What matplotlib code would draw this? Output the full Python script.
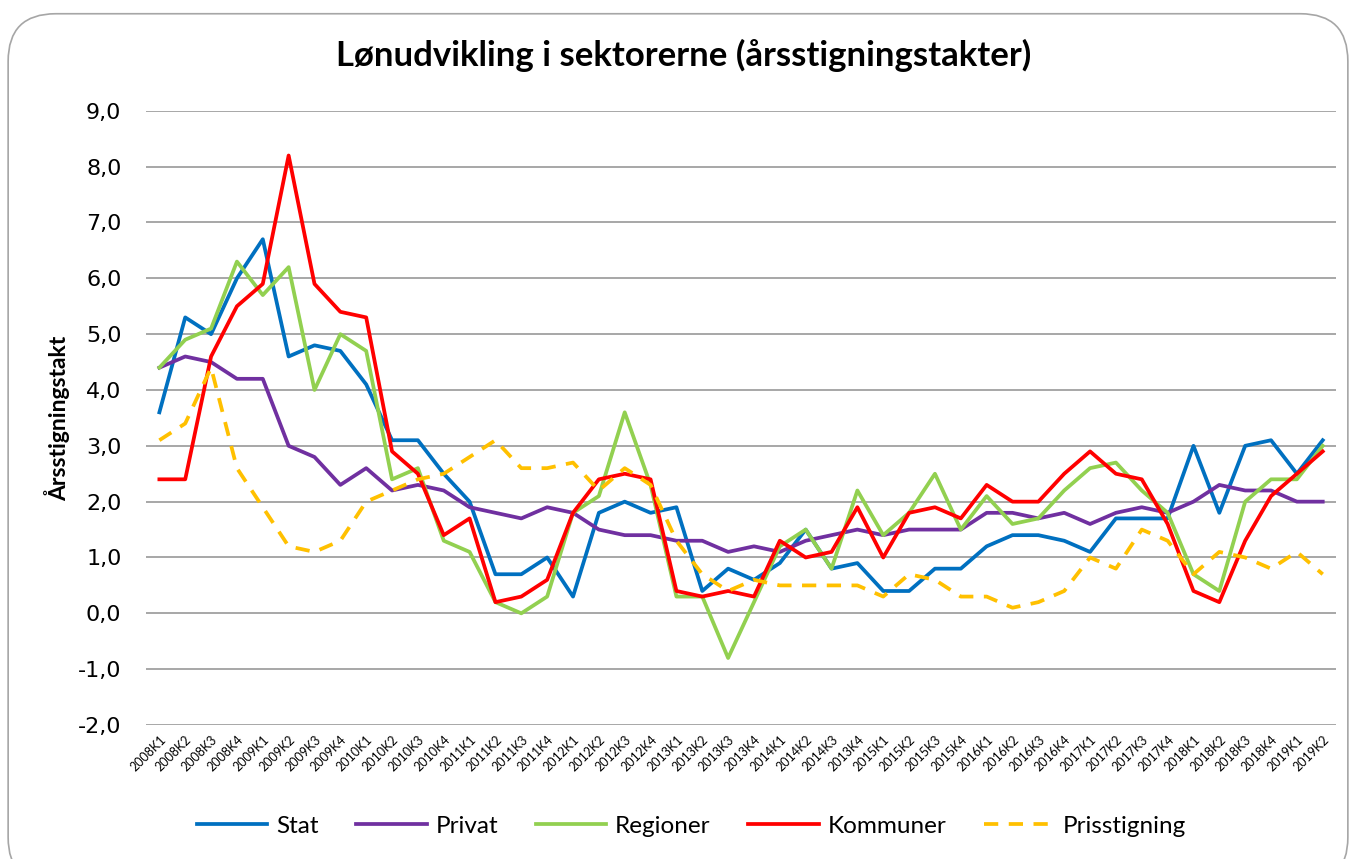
import matplotlib
matplotlib.use('Agg')
from matplotlib import pyplot as plt
from matplotlib.patches import FancyBboxPatch
import numpy as np

quarters = ['2008K1', '2008K2', '2008K3', '2008K4', '2009K1', '2009K2', '2009K3', '2009K4',
            '2010K1', '2010K2', '2010K3', '2010K4', '2011K1', '2011K2', '2011K3', '2011K4',
            '2012K1', '2012K2', '2012K3', '2012K4', '2013K1', '2013K2', '2013K3', '2013K4',
            '2014K1', '2014K2', '2014K3', '2013K4', '2015K1', '2015K2', '2015K3', '2015K4',
            '2016K1', '2016K2', '2016K3', '2016K4', '2017K1', '2017K2', '2017K3', '2017K4',
            '2018K1', '2018K2', '2018K3', '2018K4', '2019K1', '2019K2']

stat = [3.6, 5.3, 5.0, 6.0, 6.7, 4.6, 4.8, 4.7, 4.1, 3.1, 3.1, 2.5, 2.0, 0.7, 0.7, 1.0,
        0.3, 1.8, 2.0, 1.8, 1.9, 0.4, 0.8, 0.6, 0.9, 1.5, 0.8, 0.9, 0.4, 0.4, 0.8, 0.8,
        1.2, 1.4, 1.4, 1.3, 1.1, 1.7, 1.7, 1.7, 3.0, 1.8, 3.0, 3.1, 2.5, 3.1]
privat = [4.4, 4.6, 4.5, 4.2, 4.2, 3.0, 2.8, 2.3, 2.6, 2.2, 2.3, 2.2, 1.9, 1.8, 1.7, 1.9,
          1.8, 1.5, 1.4, 1.4, 1.3, 1.3, 1.1, 1.2, 1.1, 1.3, 1.4, 1.5, 1.4, 1.5, 1.5, 1.5,
          1.8, 1.8, 1.7, 1.8, 1.6, 1.8, 1.9, 1.8, 2.0, 2.3, 2.2, 2.2, 2.0, 2.0]
regioner = [4.4, 4.9, 5.1, 6.3, 5.7, 6.2, 4.0, 5.0, 4.7, 2.4, 2.6, 1.3, 1.1, 0.2, 0.0, 0.3,
            1.8, 2.1, 3.6, 2.3, 0.3, 0.3, -0.8, 0.2, 1.2, 1.5, 0.8, 2.2, 1.4, 1.8, 2.5, 1.5,
            2.1, 1.6, 1.7, 2.2, 2.6, 2.7, 2.2, 1.8, 0.7, 0.4, 2.0, 2.4, 2.4, 3.0]
kommuner = [2.4, 2.4, 4.6, 5.5, 5.9, 8.2, 5.9, 5.4, 5.3, 2.9, 2.5, 1.4, 1.7, 0.2, 0.3, 0.6,
            1.8, 2.4, 2.5, 2.4, 0.4, 0.3, 0.4, 0.3, 1.3, 1.0, 1.1, 1.9, 1.0, 1.8, 1.9, 1.7,
            2.3, 2.0, 2.0, 2.5, 2.9, 2.5, 2.4, 1.6, 0.4, 0.2, 1.3, 2.1, 2.5, 2.9]
prisstigning = [3.1, 3.4, 4.4, 2.6, 1.9, 1.2, 1.1, 1.3, 2.0, 2.2, 2.4, 2.5, 2.8, 3.1, 2.6, 2.6,
                2.7, 2.2, 2.6, 2.3, 1.3, 0.7, 0.4, 0.6, 0.5, 0.5, 0.5, 0.5, 0.3, 0.7, 0.6, 0.3,
                0.3, 0.1, 0.2, 0.4, 1.0, 0.8, 1.5, 1.3, 0.7, 1.1, 1.0, 0.8, 1.1, 0.7]

fig = plt.figure(figsize=(13.56, 8.59), dpi=100)

# rounded frame round the chart, kept behind the axes
frame = FancyBboxPatch((0.006, -0.03), 0.988, 1.014, boxstyle='round,pad=0,rounding_size=0.035',
                       transform=fig.transFigure, facecolor='white', edgecolor='#a6a6a6',
                       linewidth=1.2, mutation_aspect=1356 / 859, zorder=-5)
fig.patches.append(frame)

ax = fig.add_axes([0.108, 0.156, 0.877, 0.715])
ax.set_zorder(2)
ax.set_facecolor('none')
x = np.arange(len(quarters))

ax.plot(x, stat, color='#0070C0', lw=2.7, label='Stat')
ax.plot(x, privat, color='#7030A0', lw=2.7, label='Privat')
ax.plot(x, regioner, color='#92D050', lw=2.7, label='Regioner')
ax.plot(x, kommuner, color='#FF0000', lw=2.7, label='Kommuner')
ax.plot(x, prisstigning, color='#FFC000', lw=2.7, ls=(0, (3.8, 2.8)), label='Prisstigning')

ax.set_xlim(-0.5, len(quarters) - 0.5)
ax.set_ylim(-2, 9)
yt = np.arange(-2, 10, 1)
ax.set_yticks(yt)
ax.set_yticklabels([('%.1f' % v).replace('.', ',') for v in yt], fontsize=16)
ax.set_xticks(x)
ax.set_xticklabels(quarters, rotation=45, ha='right', rotation_mode='anchor', fontsize=9,
                   family='Lato')
ax.tick_params(axis='both', length=0)
ax.tick_params(axis='y', pad=18)
ax.tick_params(axis='x', pad=6)
ax.grid(axis='y', color='#a0a0a0', lw=1.3)
ax.set_axisbelow(True)
for s in ax.spines.values():
    s.set_visible(False)

ax.set_ylabel('Årsstigningstakt', fontsize=16.5, fontweight='bold', family='Lato', labelpad=6)
fig.text(0.504, 0.935, 'Lønudvikling i sektorerne (årsstigningstakter)', ha='center', va='center',
         fontsize=25, fontweight='bold', family='Lato')

fig.legend(loc='center', bbox_to_anchor=(0.51, 0.038), ncol=5, frameon=False,
           prop={'family': 'Lato', 'size': 17.5}, handlelength=2.9, columnspacing=1.56,
           handletextpad=0.35)

fig.savefig('out.png', dpi=100)
